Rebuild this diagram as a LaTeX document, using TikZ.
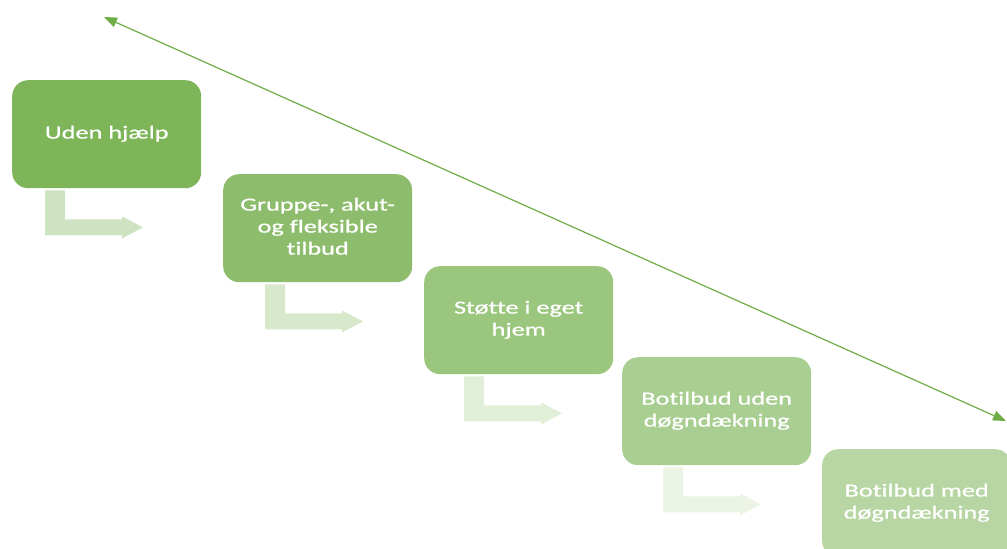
\documentclass[tikz,border=0pt]{standalone}
\usepackage{fontspec}
\setmainfont{Carlito}
\newfontfamily\boxfont[FakeBold=0.6,Ligatures=NoCommon]{Carlito}
\usepackage{graphicx}
\usetikzlibrary{arrows.meta,positioning}

\definecolor{accentgreen}{HTML}{70AD47}
\newcommand{\wide}[1]{\scalebox{1.42}[1]{\begin{tabular}{@{}c@{}}#1\end{tabular}}}
% #1 box, #2 offset from the box's left side, #3 colour
\newcommand{\bentarrow}[3]{%
  \fill[#3] ([shift={(#2,2)}]#1.south west) -- ++(20,0) -- ++(0,29) -- ++(57,0)
    -- ++(0,-3) -- ++(21,11) -- ++(-21,11) -- ++(0,-3) -- ++(-77,0) -- cycle;}

\tikzset{
  stepbox/.style={draw=none,rounded corners=16pt,minimum width=189pt,minimum height=108pt,
    anchor=north west,text=white,inner sep=0pt,font=\boxfont\fontsize{18.5}{22}\selectfont},
}

\begin{document}
\begin{tikzpicture}[x=1pt,y=-1pt]
	\useasboundingbox (0,0) rectangle (1007,549);
	\clip (0,0) rectangle (1007,549);
	
	\node[stepbox,fill=accentgreen!90] (udenhjaelp) at (12,80) {\wide{Uden hjælp}};
	\node[stepbox,fill=accentgreen!80] (gruppe) at (223,174) {\wide{Gruppe-, akut-\\og fleksible\\tilbud}};
	\node[stepbox,fill=accentgreen!70] (stoette) at (424,266) {\wide{Støtte i eget\\hjem}};
	\node[stepbox,fill=accentgreen!60] (udendoegn) at (622,357) {\wide{Botilbud uden\\døgndækning}};
	\node[stepbox,fill=accentgreen!50] (meddoegn) at (822,449) {\wide{Botilbud med\\døgndækning}};
	
	\bentarrow{udenhjaelp}{33}{accentgreen!34}
	\bentarrow{gruppe}{42}{accentgreen!28}
	\bentarrow{stoette}{40}{accentgreen!21}
	\bentarrow{udendoegn}{41}{accentgreen!14}
	
	\coordinate (mindre) at (104,17);
	\coordinate (mere) at (1006,421);
	\draw[accentgreen,line width=1.2pt,{Triangle[length=13pt,width=10pt]}-{Triangle[length=13pt,width=10pt]}] (mindre) -- (mere);
	
\end{tikzpicture}
\end{document}
